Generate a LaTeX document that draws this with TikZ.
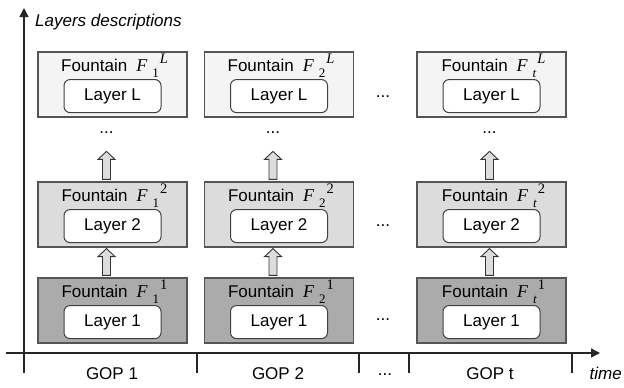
\documentclass[tikz,border=0pt]{standalone}
\usepackage{fontspec}
\setmainfont{Liberation Sans}
\newfontfamily\serf{Liberation Serif}
\usetikzlibrary{calc,arrows.meta}
\definecolor{ftop}{HTML}{F4F4F4}
\definecolor{fmid}{HTML}{DCDCDC}
\definecolor{fbot}{HTML}{ABABAB}
\definecolor{edgec}{HTML}{555555}
\definecolor{arrfill}{HTML}{DDDDDD}
\newcommand\fnt[2]{Fountain\hspace{9pt}{\serf\itshape\fontsize{18}{18}\selectfont F}\hspace{5pt}\raisebox{-6pt}{\serf\fontsize{13}{13}\selectfont #1}\hspace{1pt}\raisebox{8pt}{\serf\fontsize{14.5}{14.5}\selectfont #2}}
\newcommand\blockarr[2]{\path[blockarrow] let \p1=(#1), \p2=(#2) in
  (\x1-4pt,\y1) -- (\x1-4pt,\y2-8pt) -- (\x1-8.5pt,\y2-8pt) -- (\x2,\y2)
  -- (\x1+8.5pt,\y2-8pt) -- (\x1+4pt,\y2-8pt) -- (\x1+4pt,\y1) -- cycle;}
\begin{document}
\begin{tikzpicture}[x=1pt,y=-1pt,
  every node/.style={font=\fontsize{17}{19}\selectfont},
  outer/.style={draw=edgec, line width=1.2pt, minimum width=149pt, minimum height=65pt, inner sep=0pt},
  innerbox/.style={draw=black!75, line width=1pt, fill=white, rounded corners=6pt, minimum width=97pt, minimum height=33pt, inner sep=0pt},
  lab/.style={anchor=base, inner sep=0pt},
  blockarrow/.style={draw=black!80, line width=0.9pt, fill=arrfill},
  axis/.style={draw=black!85, line width=1.3pt},
  dotsn/.style={anchor=base, inner sep=0pt},
]
\useasboundingbox (0,0) rectangle (624,388);
% boxes
\foreach \c/\x/\s/\d in {1/112.5/1/-6, 2/279/2/-6, 3/491.5/{\itshape t}/-2} {
  \foreach \r/\y/\f/\su/\lay in {1/310.5/fbot/1/1, 2/214.5/fmid/2/2, 3/84.5/ftop/{\itshape L}/L} {
    \node[outer, fill=\f] (c\c r\r) at (\x,\y) {};
    \node[innerbox] (l\c r\r) at ($(c\c r\r.south)+(0,-21.5)$) {Layer \lay};
    \node[lab] (t\c r\r) at ($(c\c r\r.north)+(2,20)$) {\fnt{\s}{\su}};
  }
  \blockarr{$(c\c r1.north)+(\d,-2)$}{$(c\c r2.south)+(\d,1)$}
  \blockarr{$(c\c r2.north)+(\d,-2)$}{$(c\c r2.north)+(\d,-30)$}
  \node[dotsn] (v\c) at ($(c\c r2.north)+(\d,-47.5)$) {...};
}
% dots between columns
\node[dotsn] (h3) at (383,97) {...};
\node[dotsn] (h2) at (383,226) {...};
\node[dotsn] (h1) at (383,320) {...};
% axes
\coordinate (ox) at (6,353);
\coordinate (ex) at (600,353);
\coordinate (oy) at (24,373);
\coordinate (ey) at (24,8);
\draw[axis,-{Triangle[length=9pt,width=9pt]}] (ox) -- (ex);
\draw[axis,-{Triangle[length=9pt,width=9pt]}] (oy) -- (ey);
\foreach \tx in {197,359,409,572} {
  \coordinate (ta\tx) at (\tx,353);
  \coordinate (tb\tx) at (\tx,373);
  \draw[axis] (ta\tx) -- (tb\tx);
}
\node[lab] (g1) at (112,379) {GOP 1};
\node[lab] (g2) at (278,379) {GOP 2};
\node[lab] (gt) at (490,379) {GOP t};
\node[dotsn] (gd) at (385,375) {...};
\node[anchor=base east, inner sep=0pt] (tm) at (622,379) {\itshape time};
\node[anchor=base west, inner sep=0pt] (ld) at (35,26) {\itshape Layers descriptions};
\end{tikzpicture}
\end{document}
